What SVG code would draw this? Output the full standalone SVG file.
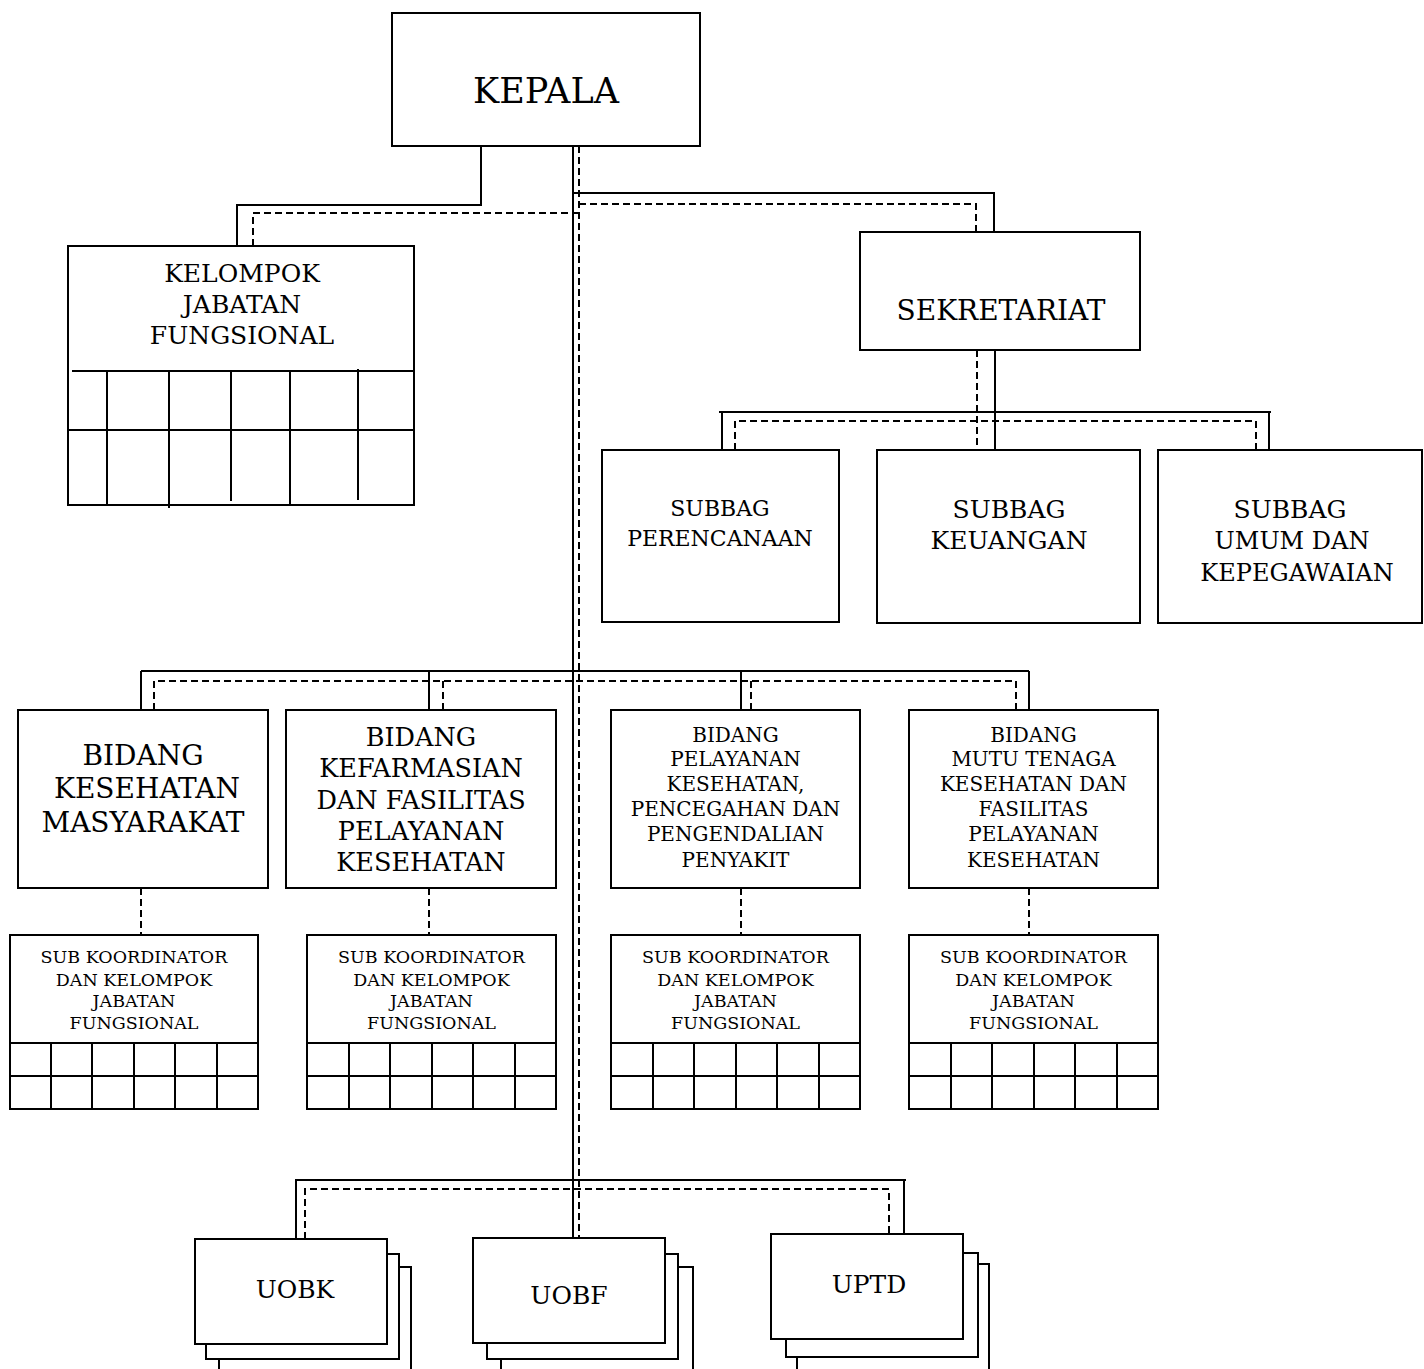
<svg xmlns="http://www.w3.org/2000/svg" width="1424" height="1369" viewBox="0 0 1424 1369">
<style>
.box{fill:#fff;stroke:#000;stroke-width:2}
.ln{fill:none;stroke:#000;stroke-width:2}
.ds{fill:none;stroke:#000;stroke-width:2;stroke-dasharray:7 4}
text{font-family:"DejaVu Serif","Liberation Serif",serif;fill:#000;text-anchor:middle}
</style>
<rect width="1424" height="1369" fill="#fff"/>
<g id="connectors">
  <line class="ln" x1="573" y1="146" x2="573" y2="1238"/>
  <line class="ds" x1="579" y1="146" x2="579" y2="1238"/>
  <polyline class="ln" points="481,146 481,205 237,205 237,246"/>
  <polyline class="ds" points="579,213 253,213 253,246"/>
  <polyline class="ln" points="573,193 994,193 994,232"/>
  <polyline class="ds" points="579,204 976,204 976,232"/>
  <line class="ln" x1="995" y1="350" x2="995" y2="450"/>
  <line class="ds" x1="977" y1="350" x2="977" y2="450"/>
  <polyline class="ln" points="722,450 722,412 1269,412 1269,450"/>
  <line class="ln" x1="719" y1="412" x2="1271" y2="412"/>
  <polyline class="ds" points="735,450 735,421 1256,421 1256,450"/>
  <line class="ln" x1="141" y1="671" x2="1029" y2="671"/>
  <line class="ln" x1="141" y1="671" x2="141" y2="710"/>
  <line class="ln" x1="429" y1="671" x2="429" y2="710"/>
  <line class="ln" x1="741" y1="671" x2="741" y2="710"/>
  <line class="ln" x1="1029" y1="671" x2="1029" y2="710"/>
  <polyline class="ds" points="154,710 154,681 1016,681 1016,710"/>
  <line class="ds" x1="443" y1="681" x2="443" y2="710"/>
  <line class="ds" x1="751" y1="681" x2="751" y2="710"/>
  <line class="ds" x1="141" y1="888" x2="141" y2="935"/>
  <line class="ds" x1="429" y1="888" x2="429" y2="935"/>
  <line class="ds" x1="741" y1="888" x2="741" y2="935"/>
  <line class="ds" x1="1029" y1="888" x2="1029" y2="935"/>
  <polyline class="ln" points="296,1239 296,1180 906,1180"/>
  <line class="ln" x1="904" y1="1180" x2="904" y2="1234"/>
  <polyline class="ds" points="305,1239 305,1189 889,1189 889,1234"/>
</g>
<g id="kepala">
  <rect class="box" x="392" y="13" width="308" height="133"/>
  <text x="546" y="103" font-size="35">KEPALA</text>
</g>
<g id="kelompok-jabatan-fungsional">
  <rect class="box" x="68" y="246" width="346" height="259"/>
  <text x="242" y="282" font-size="25">KELOMPOK</text>
  <text x="242" y="313" font-size="25">JABATAN</text>
  <text x="242" y="344" font-size="25">FUNGSIONAL</text>
  <line class="ln" x1="72" y1="371" x2="414" y2="371"/>
  <line class="ln" x1="67" y1="430" x2="414" y2="430"/>
  <line class="ln" x1="107" y1="371" x2="107" y2="505"/>
  <line class="ln" x1="169" y1="370" x2="169" y2="508"/>
  <line class="ln" x1="231" y1="371" x2="231" y2="501"/>
  <line class="ln" x1="290" y1="371" x2="290" y2="505"/>
  <line class="ln" x1="358" y1="369" x2="358" y2="500"/>
</g>
<g id="sekretariat">
  <rect class="box" x="860" y="232" width="280" height="118"/>
  <text x="1001" y="320" font-size="28">SEKRETARIAT</text>
</g>
<g id="subbag-perencanaan">
  <rect class="box" x="602" y="450" width="237" height="172"/>
  <text x="720" y="516" font-size="22">SUBBAG</text>
  <text x="720" y="546" font-size="22">PERENCANAAN</text>
</g>
<g id="subbag-keuangan">
  <rect class="box" x="877" y="450" width="263" height="173"/>
  <text x="1009" y="518" font-size="25">SUBBAG</text>
  <text x="1009" y="549" font-size="25">KEUANGAN</text>
</g>
<g id="subbag-umum">
  <rect class="box" x="1158" y="450" width="264" height="173"/>
  <text x="1290" y="518" font-size="25">SUBBAG</text>
  <text x="1292" y="549" font-size="24">UMUM DAN</text>
  <text x="1297" y="581" font-size="24">KEPEGAWAIAN</text>
</g>
<g id="bidang-kesmas">
  <rect class="box" x="18" y="710" width="250" height="178"/>
  <text x="143" y="765" font-size="28">BIDANG</text>
  <text x="147" y="798" font-size="28">KESEHATAN</text>
  <text x="143" y="832" font-size="28">MASYARAKAT</text>
</g>
<g id="bidang-kefarmasian">
  <rect class="box" x="286" y="710" width="270" height="178"/>
  <text x="421" y="746" font-size="25.5">BIDANG</text>
  <text x="421" y="777" font-size="25.5">KEFARMASIAN</text>
  <text x="421" y="809" font-size="25.5">DAN FASILITAS</text>
  <text x="421" y="840" font-size="25.5">PELAYANAN</text>
  <text x="421" y="871" font-size="25.5">KESEHATAN</text>
</g>
<g id="bidang-p2p">
  <rect class="box" x="611" y="710" width="249" height="178"/>
  <text x="735.5" y="742" font-size="20">BIDANG</text>
  <text x="735.5" y="766" font-size="20">PELAYANAN</text>
  <text x="735.5" y="791" font-size="20">KESEHATAN,</text>
  <text x="735.5" y="816" font-size="20">PENCEGAHAN DAN</text>
  <text x="735.5" y="841" font-size="20">PENGENDALIAN</text>
  <text x="735.5" y="867" font-size="20">PENYAKIT</text>
</g>
<g id="bidang-mutu">
  <rect class="box" x="909" y="710" width="249" height="178"/>
  <text x="1033.5" y="742" font-size="20">BIDANG</text>
  <text x="1033.5" y="766" font-size="20">MUTU TENAGA</text>
  <text x="1033.5" y="791" font-size="20">KESEHATAN DAN</text>
  <text x="1033.5" y="816" font-size="20">FASILITAS</text>
  <text x="1033.5" y="841" font-size="20">PELAYANAN</text>
  <text x="1033.5" y="867" font-size="20">KESEHATAN</text>
</g>
<g id="subkoor-1">
  <rect class="box" x="10" y="935" width="248" height="174"/>
  <text x="134" y="963" font-size="17.5">SUB KOORDINATOR</text>
  <text x="134" y="986" font-size="17.5">DAN KELOMPOK</text>
  <text x="134" y="1007" font-size="17.5">JABATAN</text>
  <text x="134" y="1029" font-size="17.5">FUNGSIONAL</text>
  <path class="ln" d="M10 1043H258M10 1076H258M51 1043V1109M92 1043V1109M134 1043V1109M175 1043V1109M217 1043V1109"/>
</g>
<g id="subkoor-2">
  <rect class="box" x="307" y="935" width="249" height="174"/>
  <text x="431.5" y="963" font-size="17.5">SUB KOORDINATOR</text>
  <text x="431.5" y="986" font-size="17.5">DAN KELOMPOK</text>
  <text x="431.5" y="1007" font-size="17.5">JABATAN</text>
  <text x="431.5" y="1029" font-size="17.5">FUNGSIONAL</text>
  <path class="ln" d="M307 1043H556M307 1076H556M349 1043V1109M390 1043V1109M432 1043V1109M473 1043V1109M515 1043V1109"/>
</g>
<g id="subkoor-3">
  <rect class="box" x="611" y="935" width="249" height="174"/>
  <text x="735.5" y="963" font-size="17.5">SUB KOORDINATOR</text>
  <text x="735.5" y="986" font-size="17.5">DAN KELOMPOK</text>
  <text x="735.5" y="1007" font-size="17.5">JABATAN</text>
  <text x="735.5" y="1029" font-size="17.5">FUNGSIONAL</text>
  <path class="ln" d="M611 1043H860M611 1076H860M653 1043V1109M694 1043V1109M736 1043V1109M777 1043V1109M819 1043V1109"/>
</g>
<g id="subkoor-4">
  <rect class="box" x="909" y="935" width="249" height="174"/>
  <text x="1033.5" y="963" font-size="17.5">SUB KOORDINATOR</text>
  <text x="1033.5" y="986" font-size="17.5">DAN KELOMPOK</text>
  <text x="1033.5" y="1007" font-size="17.5">JABATAN</text>
  <text x="1033.5" y="1029" font-size="17.5">FUNGSIONAL</text>
  <path class="ln" d="M909 1043H1158M909 1076H1158M951 1043V1109M992 1043V1109M1034 1043V1109M1075 1043V1109M1117 1043V1109"/>
</g>
<g id="uobk">
  <rect class="box" x="219" y="1267" width="192" height="120"/>
  <rect class="box" x="206" y="1254" width="193" height="105"/>
  <rect class="box" x="195" y="1239" width="192" height="105"/>
  <text x="295" y="1298" font-size="25">UOBK</text>
</g>
<g id="uobf">
  <rect class="box" x="501" y="1267" width="192" height="120"/>
  <rect class="box" x="487" y="1254" width="191" height="105"/>
  <rect class="box" x="473" y="1238" width="192" height="105"/>
  <text x="569" y="1304" font-size="25">UOBF</text>
</g>
<g id="uptd">
  <rect class="box" x="797" y="1264" width="192" height="120"/>
  <rect class="box" x="786" y="1253" width="192" height="104"/>
  <rect class="box" x="771" y="1234" width="192" height="105"/>
  <text x="869" y="1293" font-size="25">UPTD</text>
</g>
</svg>
